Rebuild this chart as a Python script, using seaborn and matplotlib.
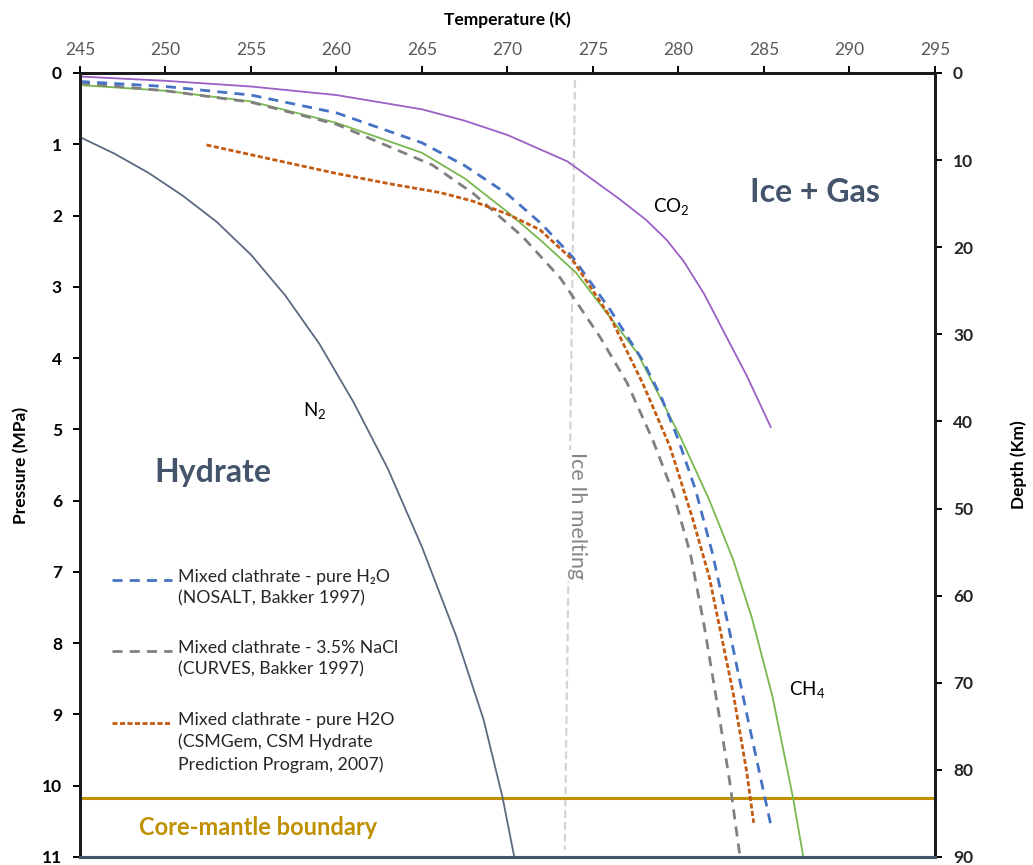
import matplotlib
matplotlib.use("Agg")
import matplotlib.pyplot as plt
import numpy as np
import pandas as pd
import seaborn as sns

# ---- equilibrium curves: temperature (K) vs pressure (MPa) ----
n2_T = [245.0, 247.0, 249.0, 251.0, 253.0, 255.0, 257.0, 259.0, 261.0, 263.0, 265.0, 267.0, 268.6, 269.7, 270.4]
n2_P = [0.90, 1.13, 1.40, 1.72, 2.09, 2.55, 3.12, 3.80, 4.62, 5.55, 6.65, 7.90, 9.07, 10.15, 11.0]

co2_T = [245.0, 250.0, 255.0, 260.0, 265.0, 267.5, 270.0, 273.5, 275.0, 276.5, 278.1, 279.3, 280.3, 281.5, 282.8, 284.0, 285.4]
co2_P = [0.05, 0.11, 0.19, 0.31, 0.51, 0.67, 0.87, 1.24, 1.50, 1.76, 2.06, 2.34, 2.64, 3.10, 3.70, 4.25, 4.97]

ch4_T = [245.0, 250.0, 255.0, 260.0, 265.0, 267.5, 270.0, 272.0, 274.0, 277.6, 280.1, 281.8, 283.2, 284.3, 285.5, 286.7, 287.3]
ch4_P = [0.17, 0.25, 0.40, 0.70, 1.12, 1.48, 1.95, 2.36, 2.80, 3.93, 5.10, 5.99, 6.83, 7.65, 8.75, 10.17, 11.0]

nosalt_T = [245.0, 250.0, 255.0, 260.0, 265.0, 267.5, 270.0, 272.0, 273.8, 276.0, 277.9, 279.0, 280.0, 281.0, 282.0, 283.0, 284.0, 285.4]
nosalt_P = [0.12, 0.19, 0.31, 0.56, 0.98, 1.30, 1.70, 2.12, 2.58, 3.32, 4.03, 4.55, 5.15, 5.85, 6.75, 7.85, 9.00, 10.55]

curves_T = [245.0, 250.0, 255.0, 260.0, 265.6, 268.0, 270.9, 273.1, 275.4, 277.0, 278.5, 279.7, 280.7, 281.5, 282.3, 283.0, 283.6]
curves_P = [0.14, 0.25, 0.41, 0.72, 1.29, 1.69, 2.30, 2.88, 3.70, 4.35, 5.15, 5.90, 6.75, 7.75, 8.90, 9.95, 11.0]

csmgem_T = [252.4, 256.0, 260.0, 263.0, 266.1, 268.0, 270.0, 271.9, 273.8, 276.0, 277.9, 279.5, 280.8, 281.8, 283.2, 284.0, 284.4]
csmgem_P = [1.01, 1.20, 1.41, 1.55, 1.68, 1.80, 1.98, 2.20, 2.62, 3.42, 4.35, 5.24, 6.23, 7.07, 8.70, 9.82, 10.52]

ice_T = [273.95, 273.35]
ice_P = [0.10, 10.90]

cmb_P = 10.17

temp_ticks = list(range(245, 296, 5))
pressure_ticks = list(range(0, 12))
depth_ticks = list(range(0, 91, 10))

legend_labels = [
    "Mixed clathrate - pure H\u2082O\n(NOSALT, Bakker 1997)",
    "Mixed clathrate - 3.5% NaCl\n(CURVES, Bakker 1997)",
    "Mixed clathrate - pure H2O\n(CSMGem, CSM Hydrate\nPrediction Program, 2007)",
]

# ---- style ----
sns.set_theme(style="white")
plt.rcParams["font.family"] = ["Lato", "DejaVu Sans"]
plt.rcParams["mathtext.default"] = "regular"

BLUE = "#4472c4"
GREY = "#808080"
ORANGE = "#c55a11"
GREEN = "#78b84e"
PURPLE = "#9b5fc6"
SLATE = "#5b6a80"
TEXT_SLATE = "#44546a"
GOLD = "#bf9000"

fig = plt.figure(figsize=(10.33, 8.65), dpi=100)
ax = fig.add_axes([0.0774, 0.00925, 0.8277, 0.9064])

def curve(T, P, **kw):
    df = pd.DataFrame({"T": T, "P": P})
    sns.lineplot(data=df, x="T", y="P", sort=False, estimator=None, ax=ax, **kw)

# ice Ih melting line
curve(ice_T, ice_P, color="#d4d4d4", lw=1.6, linestyle=(0, (3.5, 1.8)), zorder=1)

curve(n2_T, n2_P, color=SLATE, lw=1.3, zorder=3)
curve(co2_T, co2_P, color=PURPLE, lw=1.3, zorder=3)
curve(ch4_T, ch4_P, color=GREEN, lw=1.3, zorder=3)
curve(curves_T, curves_P, color=GREY, lw=2.0, linestyle=(0, (3.6, 2.6)), zorder=4)
curve(nosalt_T, nosalt_P, color=BLUE, lw=2.0, linestyle=(0, (3.6, 2.6)), zorder=5)
curve(csmgem_T, csmgem_P, color=ORANGE, lw=2.0, linestyle=(0, (1.8, 0.9)), zorder=6)

ax.axhline(cmb_P, color=GOLD, lw=2.2, zorder=2)

# ---- axes ----
ax.set_xlim(245, 295)
ax.set_ylim(11, 0)
ax.set_xticks(temp_ticks)
ax.set_yticks(pressure_ticks)
ax.xaxis.tick_top()
ax.xaxis.set_label_position("top")
ax.set_xlabel("Temperature (K)", fontsize=12.5, fontweight="bold", color="black", labelpad=12)
ax.set_ylabel("Pressure (MPa)", fontsize=12.5, fontweight="bold", color="black", labelpad=9)
ax.tick_params(axis="x", which="both", top=True, bottom=False, direction="out",
               length=5, width=1.4, colors="black", labelcolor="#595959", labelsize=12.5, pad=6)
ax.tick_params(axis="y", which="both", left=True, direction="out",
               length=5, width=1.4, colors="black", labelcolor="black", labelsize=12.5, pad=8)
for lab in ax.get_yticklabels():
    lab.set_fontweight("bold")

ax2 = ax.twinx()
ax2.set_ylim(90, 0)
ax2.set_yticks(depth_ticks)
ax2.set_ylabel("Depth (Km)", fontsize=12.5, fontweight="bold", color="black", labelpad=27)
ax2.tick_params(axis="y", direction="out", length=5, width=1.4, colors="black",
                labelcolor="#262626", labelsize=12.5, pad=8)
for lab in ax2.get_yticklabels():
    lab.set_fontweight("bold")

for a in (ax, ax2):
    for side in ("top", "left", "right"):
        a.spines[side].set_color("#1a1a1a")
        a.spines[side].set_linewidth(2.0)
    a.spines["bottom"].set_color(TEXT_SLATE)
    a.spines["bottom"].set_linewidth(2.2)
    a.grid(False)

# ---- annotations ----
ax.text(252.8, 5.61, "Hydrate", fontsize=23, fontweight="bold", color=TEXT_SLATE, ha="center", va="center")
ax.text(288.0, 1.68, "Ice + Gas", fontsize=23, fontweight="bold", color=TEXT_SLATE, ha="center", va="center")
ax.text(279.6, 1.88, "CO$_2$", fontsize=13.5, color="black", ha="center", va="center")
ax.text(258.7, 4.73, "N$_2$", fontsize=13.5, color="black", ha="center", va="center")
ax.text(287.5, 8.65, "CH$_4$", fontsize=13.5, color="black", ha="center", va="center")
ax.text(274.05, 6.21, "Ice Ih melting", fontsize=15.5, color="#858585", rotation=-90,
        ha="center", va="center", zorder=2,
        bbox=dict(facecolor="white", edgecolor="none", pad=1.5))
ax.text(255.4, 10.59, "Core-mantle boundary", fontsize=17, fontweight="bold", color=GOLD,
        ha="center", va="center")

# ---- legend ----
leg_styles = [
    dict(color=BLUE, lw=2.0, linestyle=(0, (3.6, 2.6))),
    dict(color=GREY, lw=2.0, linestyle=(0, (3.6, 2.6))),
    dict(color=ORANGE, lw=2.0, linestyle=(0, (1.8, 0.9))),
]
leg_y = [0.3533, 0.2628, 0.1709]
for y, style, label in zip(leg_y, leg_styles, legend_labels):
    ax.plot([0.0374, 0.1076], [y, y], transform=ax.transAxes, clip_on=False, **style)
    ax.text(0.1146, y + 0.0145, label, transform=ax.transAxes, fontsize=12.8, color="#262626",
            ha="left", va="top", linespacing=1.45)

fig.savefig("out.png", dpi=100)
